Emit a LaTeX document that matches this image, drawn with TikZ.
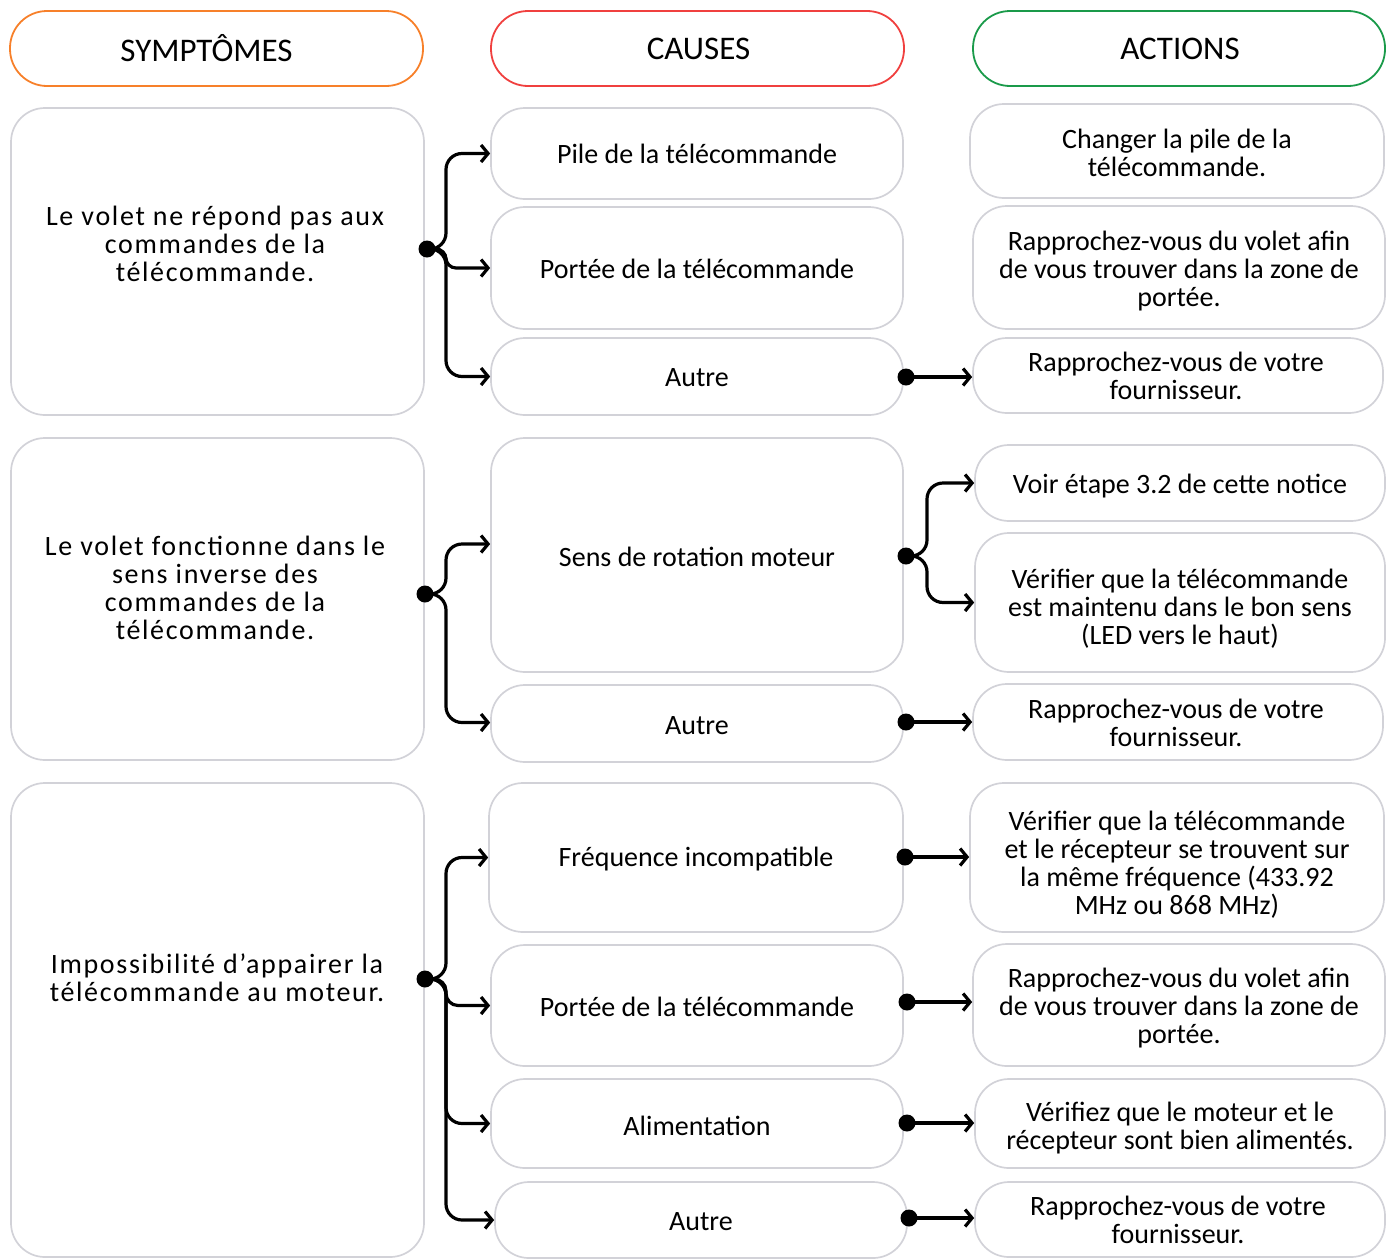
\documentclass[tikz,border=0pt]{standalone}
\usepackage{fontspec}
\setmainfont{Carlito}
\newfontfamily\symfont{Carlito}[LetterSpace=6]
\usetikzlibrary{arrows.meta,calc}
\definecolor{cOr}{HTML}{F7802A}
\definecolor{cRd}{HTML}{F0403F}
\definecolor{cGn}{HTML}{1A9A4A}
\definecolor{cGy}{HTML}{D2D2D8}
% \bx[style]{name}{x1}{y1}{x2}{y2}{text}{dx}{dy}
\newcommand\bx[9][box]{\node[#1,minimum width={#5pt-#3pt},minimum height={#6pt-#4pt}] (#2) at ({(#3+#5)/2},{(#4+#6)/2}) {};
 \node[#1txt] (#2t) at ($(#2.center)+(#8,#9)$) {#7};}
\begin{document}
\begin{tikzpicture}[x=1pt,y=-1pt,
 box/.style={draw=cGy,line width=1.7pt,rounded corners=34pt,inner sep=0pt},
 boxtxt/.style={inner sep=0pt,align=center,font=\fontsize{28}{28}\selectfont},
 hdr/.style={line width=1.8pt,rounded corners=37pt,inner sep=0pt},
 ho/.style={hdr,draw=cOr},
 hr/.style={hdr,draw=cRd},
 hg/.style={hdr,draw=cGn},
 htxt/.style={inner sep=0pt,font=\fontsize{33}{33}\selectfont},
 hotxt/.style={htxt}, hrtxt/.style={htxt}, hgtxt/.style={htxt},
 stxt/.style={align=center,inner sep=0pt,font=\symfont\fontsize{28}{28}\selectfont},
 dot/.style={circle,fill=black,inner sep=0pt,minimum size=17pt},
 conn/.style={line width=3.2pt,rounded corners=16pt,-{Straight Barb[length=7pt,width=17pt]}},
]
\useasboundingbox (0,0) rectangle (1391,1258);
% headers
\bx[ho]{h1}{10}{11}{423}{86}{SYMPTÔMES}{-10}{0}
\bx[hr]{h2}{491}{11}{904}{86}{CAUSES}{1}{0}
\bx[hg]{h3}{973}{11}{1385}{86}{ACTIONS}{1}{0}
% symptoms
\bx{s1}{11}{108}{424}{415}{}{0}{0}
\bx{s2}{11}{438}{424}{760}{}{0}{0}
\bx{s3}{11}{783}{424}{1257}{}{0}{0}
\node[stxt] (s1x) at (215,244) {Le volet ne répond pas aux\\commandes de la\\télécommande.};
\node[stxt] (s2x) at (215,588) {Le volet fonctionne dans le\\sens inverse des\\commandes de la\\télécommande.};
\node[stxt] (s3x) at (217,978) {Impossibilité d’appairer la\\télécommande au moteur.};
% causes
\bx{c1}{491}{108}{903}{199}{Pile de la télécommande}{0}{0}
\bx{c2}{491}{207}{903}{329}{Portée de la télécommande}{0}{1}
\bx{c3}{491}{338}{903}{415}{Autre}{0}{1}
\bx{c4}{491}{438}{903}{672}{Sens de rotation moteur}{0}{2}
\bx{c5}{491}{685}{903}{762}{Autre}{0}{2}
\bx{c6}{489}{783}{903}{932}{Fréquence incompatible}{0}{2}
\bx{c7}{491}{945}{903}{1066}{Portée de la télécommande}{0}{1}
\bx{c8}{491}{1079}{903}{1168}{Alimentation}{0}{2}
\bx{c9}{495}{1182}{907}{1258}{Autre}{0}{2}
% actions
\bx{a1}{970}{104}{1384}{198}{Changer la pile de la\\télécommande.}{0}{2}
\bx{a2}{973}{206}{1385}{329}{Rapprochez-vous du volet afin\\de vous trouver dans la zone de\\portée.}{0}{4}
\bx{a3}{973}{338}{1383}{413}{Rapprochez-vous de votre\\fournisseur.}{-2}{0}
\bx{a4}{975}{445}{1385}{521}{Voir étape 3.2 de cette notice}{0}{3}
\bx{a5}{975}{533}{1385}{672}{Vérifier que la télécommande\\est maintenu dans le bon sens\\(LED vers le haut)}{0}{6}
\bx{a6}{973}{684}{1383}{760}{Rapprochez-vous de votre\\fournisseur.}{-2}{1}
\bx{a7}{970}{783}{1384}{932}{Vérifier que la télécommande\\et le récepteur se trouvent sur\\la même fréquence (433.92\\MHz ou 868 MHz)}{0}{7}
\bx{a8}{973}{944}{1385}{1066}{Rapprochez-vous du volet afin\\de vous trouver dans la zone de\\portée.}{0}{3}
\bx{a9}{975}{1079}{1385}{1168}{Vérifiez que le moteur et le\\récepteur sont bien alimentés.}{0}{5}
\bx{a10}{975}{1182}{1385}{1257}{Rapprochez-vous de votre\\fournisseur.}{-2}{0}
% dots
\node[dot] (d1) at (427,249) {};
\node[dot] (d2) at (425,594) {};
\node[dot] (d3) at (425,979) {};
\node[dot] (d4) at (906,556) {};
\node[dot] (e3) at (906,377) {};
\node[dot] (e5) at (906,722) {};
\node[dot] (e6) at (905,857) {};
\node[dot] (e7) at (907,1002) {};
\node[dot] (e8) at (907,1123) {};
\node[dot] (e9) at (909,1218) {};
% branches S1
\draw[conn] (d1.center) -- (446,249) |- (c1.west);
\draw[conn,rounded corners=10pt] (d1.center) -- (446,249) |- (c2.west);
\draw[conn] (d1.center) -- (446,249) |- (c3.west);
% S2
\draw[conn] (d2.center) -- (446,594) |- ([yshift=11pt]c4.west);
\draw[conn] (d2.center) -- (446,594) |- ([yshift=1pt]c5.west);
% S3
\draw[conn] (d3.center) -- (446,979) |- (c6.west);
\draw[conn,rounded corners=12pt] (d3.center) -- (446,979) |- (c7.west);
\draw[conn] (d3.center) -- (446,979) |- (c8.west);
\draw[conn] (d3.center) -- (446,979) |- (c9.west);
% C4 split
\draw[conn] (d4.center) -- (927,556) |- (a4.west);
\draw[conn] (d4.center) -- (927,556) |- (a5.west);
% simple
\draw[conn] (e3.center) -- (e3 -| a3.west);
\draw[conn] (e5.center) -- (e5 -| a6.west);
\draw[conn] (e6.center) -- (e6 -| a7.west);
\draw[conn] (e7.center) -- (e7 -| a8.west);
\draw[conn] (e8.center) -- (e8 -| a9.west);
\draw[conn] (e9.center) -- (e9 -| a10.west);
\end{tikzpicture}
\end{document}
